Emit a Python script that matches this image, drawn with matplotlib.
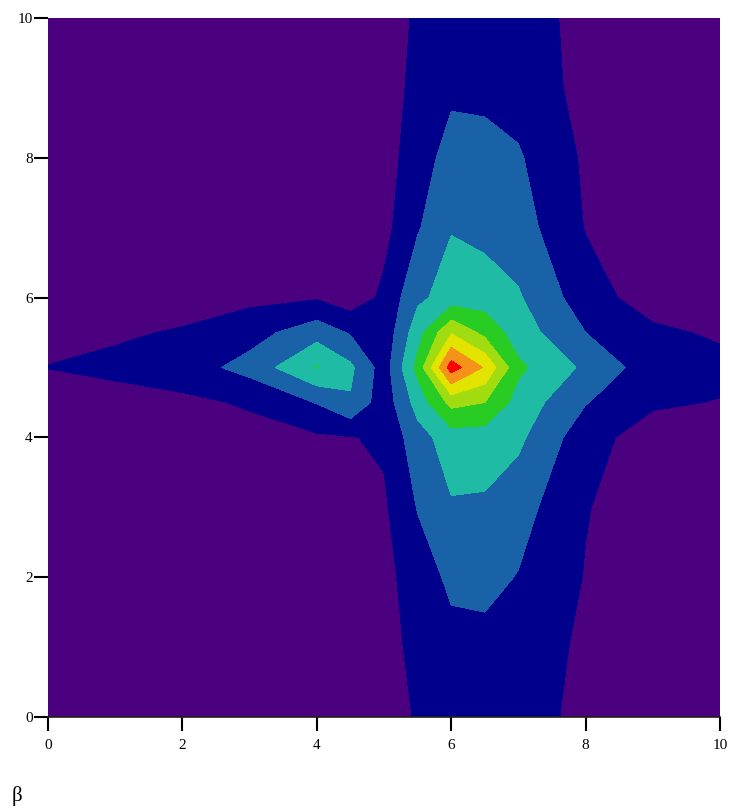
import numpy as np
import matplotlib.pyplot as plt

plt.rcParams['font.family'] = ['Liberation Serif', 'DejaVu Serif']

# grid nodes (non-uniform, finer around the peaks)
x_nodes = [0, 1, 2, 3, 4, 4.5, 5, 5.5, 6, 6.5, 7, 8, 9, 10]
y_nodes = [0, 1, 2, 3, 4, 4.5, 5, 5.5, 6, 7, 8, 9, 10]

# z values, one row per y node
z_rows = [
    [0.40, 0.40, 0.40, 0.40, 0.40, 0.45, 0.50, 1.10, 1.50, 1.50, 1.40, 0.75, 0.40, 0.40],
    [0.40, 0.40, 0.40, 0.40, 0.40, 0.50, 0.60, 1.30, 1.70, 1.70, 1.60, 0.80, 0.40, 0.40],
    [0.40, 0.40, 0.40, 0.40, 0.45, 0.55, 0.70, 1.50, 2.20, 2.30, 1.95, 0.95, 0.40, 0.40],
    [0.40, 0.40, 0.40, 0.40, 0.50, 0.65, 0.85, 2.05, 2.90, 2.85, 2.40, 1.05, 0.45, 0.40],
    [0.40, 0.45, 0.55, 0.70, 0.85, 0.95, 1.15, 2.60, 3.50, 3.50, 3.20, 1.40, 0.50, 0.40],
    [0.50, 0.60, 0.80, 1.10, 2.05, 2.90, 1.40, 3.40, 5.30, 5.00, 3.60, 2.05, 1.15, 0.95],
    [1.02, 1.25, 1.50, 2.36, 4.05, 3.20, 1.50, 4.30, 8.50, 6.90, 4.20, 2.80, 1.45, 1.30],
    [0.75, 0.85, 1.10, 1.60, 2.60, 1.90, 1.30, 3.60, 5.90, 4.70, 3.50, 2.00, 1.20, 0.85],
    [0.40, 0.45, 0.50, 0.75, 0.90, 0.40, 1.20, 2.80, 3.40, 3.50, 3.10, 1.45, 0.50, 0.40],
    [0.40, 0.40, 0.40, 0.40, 0.45, 0.50, 0.70, 1.90, 2.95, 2.70, 2.45, 0.95, 0.40, 0.40],
    [0.40, 0.40, 0.40, 0.40, 0.40, 0.45, 0.60, 1.50, 2.40, 2.35, 2.10, 0.85, 0.40, 0.40],
    [0.40, 0.40, 0.40, 0.40, 0.40, 0.45, 0.50, 1.30, 1.80, 1.75, 1.60, 0.70, 0.40, 0.40],
    [0.40, 0.40, 0.40, 0.40, 0.40, 0.45, 0.50, 1.15, 1.50, 1.50, 1.45, 0.70, 0.40, 0.40],
]

levels = [0, 1, 2, 3, 4, 5, 6, 7, 8, 9]
band_colors = ['#4b0080', '#00008c', '#1a62a8', '#20bba5', '#28cc22',
               '#a0dc10', '#e2e400', '#f5921a', '#ff0000']
ticks = [0, 2, 4, 6, 8, 10]

fig = plt.figure(figsize=(7.31, 8.10), dpi=100)
ax = fig.add_axes([0.0657, 0.1148, 0.9193, 0.863])

ax.contourf(x_nodes, y_nodes, np.array(z_rows), levels=levels, colors=band_colors)

ax.set_xlim(0, 10)
ax.set_ylim(0, 10)
ax.set_xticks(ticks)
ax.set_yticks(ticks)
ax.tick_params(axis='both', length=10, width=1.5, labelsize=11)
ax.tick_params(axis='x', pad=6)
ax.tick_params(axis='y', pad=1)
for side in ['top', 'right', 'left']:
    ax.spines[side].set_visible(False)
ax.spines['bottom'].set_linewidth(1.2)
ax.spines['bottom'].set_color('#202020')

fig.text(0.023, 0.005, 'β', fontsize=15, ha='center', va='bottom')

fig.savefig('out.png', dpi=100)
